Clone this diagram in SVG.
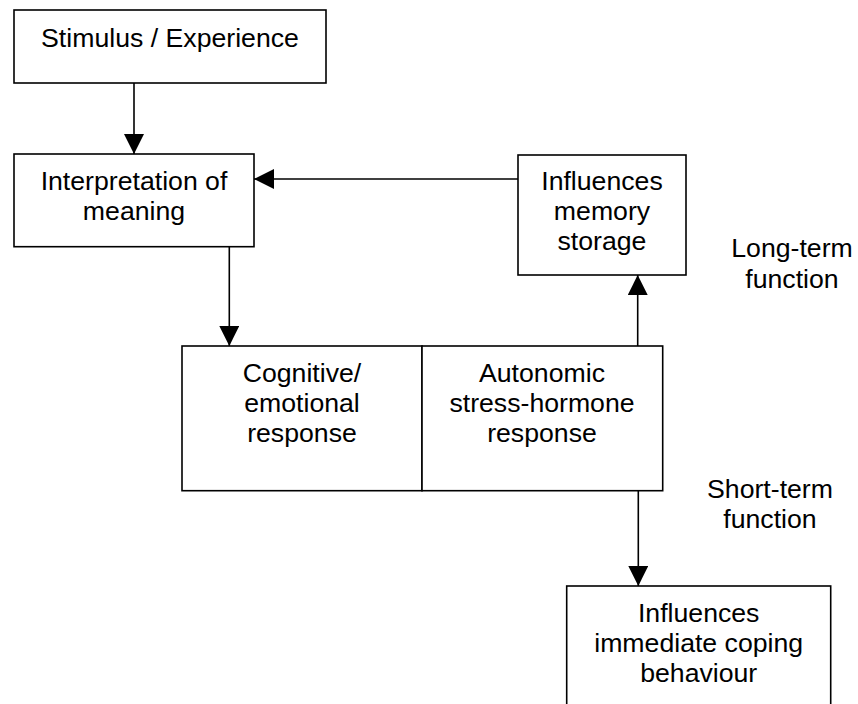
<svg xmlns="http://www.w3.org/2000/svg" width="858" height="704" viewBox="0 0 858 704">
  <style>
    .box { fill: #ffffff; stroke: #000000; stroke-width: 1.6; }
    .lbl { font-family: "Liberation Sans", Arial, sans-serif; font-size: 26.67px; fill: #000000; text-anchor: middle; }
    .conn { stroke: #000000; stroke-width: 1.6; fill: none; marker-end: url(#arrow); }
  </style>
  <defs>
    <marker id="arrow" markerUnits="userSpaceOnUse" markerWidth="20" markerHeight="20" refX="20" refY="10" orient="auto">
      <path d="M0,0 L20,10 L0,20 z" fill="#000000"/>
    </marker>
  </defs>
  <rect width="858" height="704" fill="#ffffff"/>

  <g id="stimulus">
    <rect class="box" x="14" y="10" width="312" height="73"/>
    <text class="lbl" x="170" y="47">Stimulus / Experience</text>
  </g>

  <g id="interpretation">
    <rect class="box" x="14" y="154" width="240" height="92.7"/>
    <text class="lbl" x="134" y="190">Interpretation of</text>
    <text class="lbl" x="134" y="220">meaning</text>
  </g>

  <g id="memory">
    <rect class="box" x="518" y="155" width="168" height="120"/>
    <text class="lbl" x="602" y="190">Influences</text>
    <text class="lbl" x="602" y="220">memory</text>
    <text class="lbl" x="602" y="250">storage</text>
  </g>

  <g id="cognitive">
    <rect class="box" x="182" y="346" width="240" height="144.7"/>
    <text class="lbl" x="302" y="382">Cognitive/</text>
    <text class="lbl" x="302" y="412">emotional</text>
    <text class="lbl" x="302" y="442">response</text>
  </g>

  <g id="autonomic">
    <rect class="box" x="422" y="346" width="240.7" height="144.7"/>
    <text class="lbl" x="542" y="382">Autonomic</text>
    <text class="lbl" x="542" y="412">stress-hormone</text>
    <text class="lbl" x="542" y="442">response</text>
  </g>

  <g id="coping">
    <rect class="box" x="566.7" y="586" width="264" height="140"/>
    <text class="lbl" x="698.7" y="622">Influences</text>
    <text class="lbl" x="698.7" y="652">immediate coping</text>
    <text class="lbl" x="698.7" y="682">behaviour</text>
  </g>

  <g id="long-term-label">
    <text class="lbl" x="792" y="257">Long-term</text>
    <text class="lbl" x="792" y="288">function</text>
  </g>

  <g id="short-term-label">
    <text class="lbl" x="770" y="498">Short-term</text>
    <text class="lbl" x="770" y="528">function</text>
  </g>

  <g id="connectors">
    <line class="conn" x1="134" y1="83" x2="134" y2="154"/>
    <line class="conn" x1="518" y1="179" x2="254" y2="179"/>
    <line class="conn" x1="229.3" y1="246.7" x2="229.3" y2="346"/>
    <line class="conn" x1="637.7" y1="346" x2="637.7" y2="275"/>
    <line class="conn" x1="638.3" y1="490.7" x2="638.3" y2="586"/>
  </g>
</svg>
